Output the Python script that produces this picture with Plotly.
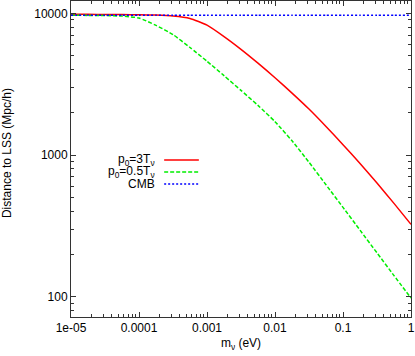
import plotly.graph_objects as go

# neutrino mass (eV), quarter decade grid
m_nu = [1e-05, 1.78e-05, 3.16e-05, 5.62e-05,
        1e-04, 1.78e-04, 3.16e-04, 5.62e-04,
        1e-03, 1.78e-03, 3.16e-03, 5.62e-03,
        1e-02, 1.78e-02, 3.16e-02, 5.62e-02,
        1e-01, 1.78e-01, 3.16e-01, 5.62e-01, 1.0]
# distance to last scattering surface (Mpc/h)
d_p3 = [9850, 9840, 9820, 9800,
        9770, 9720, 9580, 9200,
        8250, 6850, 5570, 4450,
        3510, 2735, 2110, 1590,
        1183, 871, 634, 456, 324]
d_p05 = [9680, 9670, 9640, 9560,
         9270, 8220, 7080, 5740,
         4590, 3630, 2860, 2240,
         1720, 1260, 890, 617,
         427, 295, 204, 141, 98]
d_cmb = [9700] * len(m_nu)

x_tickvals = [1e-05, 1e-04, 1e-03, 1e-02, 1e-01, 1]
x_ticktext = ["1e-05", "0.0001", "0.001", "0.01", "0.1", "1"]
y_tickvals = [100, 1000, 10000]
y_ticktext = ["100", "1000", "10000"]

key_labels = ["p<sub>0</sub>=3T<sub>ν</sub>", "p<sub>0</sub>=0.5T<sub>ν</sub>", "CMB"]
colors = ["#ff0000", "#00ee00", "#0000ff"]
dashes = ["solid", "4px,2px", "2px,2px"]

fig = go.Figure()
for ys, c, d in zip([d_p3, d_p05, d_cmb], colors, dashes):
    fig.add_trace(go.Scatter(x=m_nu, y=ys, mode="lines", line_shape="spline",
                             line=dict(color=c, width=1.5, dash=d, smoothing=0.5),
                             showlegend=False))

# gnuplot style key: text right aligned, sample to the right
key_y = [0.497, 0.459, 0.421]
for lab, c, d, ky in zip(key_labels, colors, dashes, key_y):
    fig.add_annotation(xref="paper", yref="paper", x=0.253, y=ky, text=lab,
                       showarrow=False, xanchor="right", yanchor="middle",
                       font=dict(size=12, color="black"))
    fig.add_shape(type="line", xref="paper", yref="paper", x0=0.274, x1=0.376,
                  y0=ky, y1=ky, line=dict(color=c, width=1.5, dash=d))

# y title placed by hand, closer to the edge than plotly's standoff allows
fig.add_annotation(xref="paper", yref="paper", x=-0.19, y=0.52, text="Distance to LSS (Mpc/h)",
                   textangle=-90, showarrow=False, xanchor="center", yanchor="middle",
                   font=dict(size=12, color="black"))

x_minor = [k * 10.0 ** e for e in range(-5, 0) for k in range(2, 10)]
y_minor = [k * 10.0 ** e for e in range(1, 4) for k in range(2, 10)]

axis_common = dict(type="log", showgrid=False, showline=True, linecolor="#333333",
                   linewidth=1, mirror="allticks", ticks="inside", ticklen=5,
                   tickcolor="#333333", zeroline=False, automargin=False,
                   tickfont=dict(size=12, color="black"))

fig.update_xaxes(**axis_common, range=[-5, 0], tickvals=x_tickvals, ticktext=x_ticktext,
                 minor=dict(tickvals=x_minor, ticks="inside", ticklen=3, tickcolor="#333333"),
                 title=dict(text="m<sub>ν</sub> (eV)", font=dict(size=12, color="black"), standoff=4))
fig.update_yaxes(**axis_common, range=[1.857, 4.087], tickvals=y_tickvals, ticktext=y_ticktext,
                 minor=dict(tickvals=y_minor, ticks="inside", ticklen=3, tickcolor="#333333"))

fig.update_layout(width=415, height=356, margin=dict(l=71, r=4, t=1, b=39),
                  plot_bgcolor="white", paper_bgcolor="white",
                  font=dict(family="Liberation Sans, Arial, sans-serif"))

# drop the default page margin so the figure sits at the window corner
fig.write_html("out.html", config={"displayModeBar": False},
               post_script="document.body.style.margin='0px';")
